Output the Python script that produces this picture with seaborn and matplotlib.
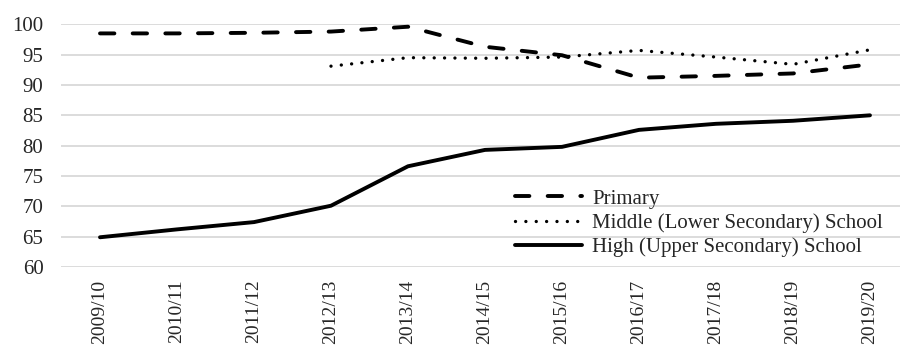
import matplotlib
matplotlib.use("Agg")
import matplotlib.pyplot as plt
import seaborn as sns

# Dados
anos = ["2009/10", "2010/11", "2011/12", "2012/13", "2013/14", "2014/15",
        "2015/16", "2016/17", "2017/18", "2018/19", "2019/20"]

primary = [98.5, 98.5, 98.6, 98.8, 99.6, 96.3, 94.9, 91.2, 91.5, 91.9, 93.4]
middle_anos = anos[3:]
middle = [93.1, 94.5, 94.4, 94.6, 95.7, 94.6, 93.4, 95.8]
high = [64.9, 66.2, 67.4, 70.1, 76.6, 79.3, 79.8, 82.6, 83.6, 84.1, 85.0]

rotulos = ["Primary", "Middle (Lower Secondary) School", "High (Upper Secondary) School"]

sns.set_style("white")
plt.rcParams["font.family"] = ["Liberation Serif", "DejaVu Serif"]
plt.rcParams["font.size"] = 15

fig = plt.figure(figsize=(9, 3.47), dpi=100)
ax = fig.add_axes([61.5 / 900, 80 / 347, 1 - 61.5 / 900, (267 - 24.3) / 347])

sns.lineplot(x=anos, y=primary, ax=ax, color="black", linewidth=2.8,
             label=rotulos[0], sort=False)
sns.lineplot(x=middle_anos, y=middle, ax=ax, color="black", linewidth=2.4,
             label=rotulos[1], sort=False)
sns.lineplot(x=anos, y=high, ax=ax, color="black", linewidth=2.8,
             label=rotulos[2], sort=False)

linhas = ax.get_lines()
linhas[0].set_dashes((3.7, 4.7))
linhas[0].set_dash_capstyle("round")
linhas[1].set_dashes((0.01, 3.1))
linhas[1].set_dash_capstyle("round")
for ln in linhas:
    ln.set_solid_capstyle("round")

# Ajustes
ax.set_ylim(60, 100)
ax.set_yticks(range(60, 101, 5))
ax.set_xlim(-0.5, 10.39)
ax.grid(axis="y", color="#d9d9d9", linewidth=1.3)
ax.set_axisbelow(True)
ax.tick_params(axis="x", rotation=90, length=0, pad=9, labelsize=14)
ax.tick_params(axis="y", length=0, pad=13, labelsize=15)
for s in ax.spines.values():
    s.set_visible(False)

ax.legend(loc="upper left", bbox_to_anchor=(515 / 900, 1 - 189 / 347),
          bbox_transform=fig.transFigure, frameon=False, fontsize=15,
          handlelength=3.2, handletextpad=0.5, labelspacing=0.22,
          borderpad=0, borderaxespad=0)

fig.savefig("out.png", dpi=100)
